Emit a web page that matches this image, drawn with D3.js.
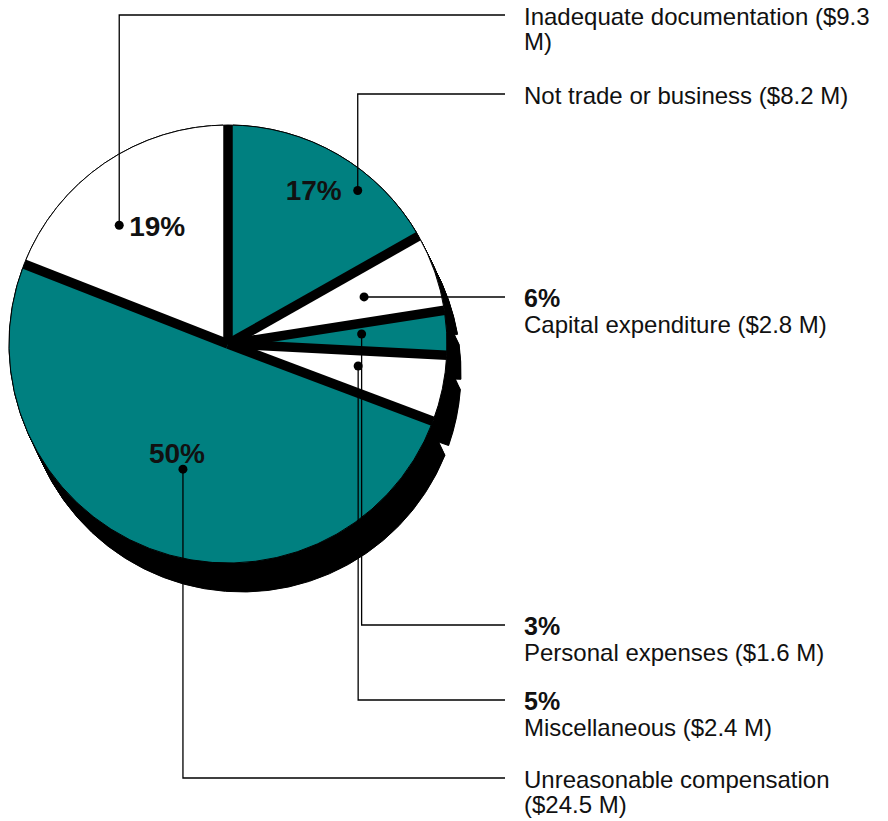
<!DOCTYPE html>
<html>
<head>
<meta charset="utf-8">
<script src="https://cdn.jsdelivr.net/npm/d3@7"></script>
<style>
  body { margin: 0; background: #fff; }
  text { font-family: "Liberation Sans", Arial, Helvetica, sans-serif; fill: #111; }
</style>
</head>
<body>
<div id="chart"></div>
<script>
// slices, clockwise from 12 o'clock
var categories = ["Not trade or business", "Capital expenditure", "Personal expenses",
                  "Miscellaneous", "Unreasonable compensation", "Inadequate documentation"];
var amounts = [8.2, 2.8, 1.6, 2.4, 24.5, 9.3];   // $ M
var percents = ["17%", "6%", "3%", "5%", "50%", "19%"];

// label lines on the right (as wrapped in the original)
var labelLines = [
    ["Not trade or business ($8.2 M)"],
    ["Capital expenditure ($2.8 M)"],
    ["Personal expenses ($1.6 M)"],
    ["Miscellaneous ($2.4 M)"],
    ["Unreasonable compensation", "($24.5 M)"],
    ["Inadequate documentation ($9.3", "M)"]
];
var pctInside = [true, false, false, false, true, true];

var width = 888, height = 821;
var cx = 228, cy = 344, radius = 219;
var shadowDx = 14, shadowDy = 29;
var gapWidth = 9.5;
var colors = ["#008080", "#ffffff", "#008080", "#ffffff", "#008080", "#ffffff"];

// placement of the leader dots / lines (layout only)
var layout = [
    {a: 40.2,  r: 201, y: 94,  inner: {dx: -16, dy: 10, anchor: "end"}},
    {a: 70.9,  r: 144, y: 297},
    {a: 85.7,  r: 134, y: 625},
    {a: 99.6,  r: 132, y: 700},
    {a: 199.8, r: 133, y: 778, inner: {dx: -6, dy: -6, anchor: "middle"}},
    {a: 317.5, r: 161, y: 15,  inner: {dx: 10, dy: 11, anchor: "start"}}
];
var lineEndX = 505, textX = 524;

var svg = d3.select("#chart").append("svg")
    .attr("width", width)
    .attr("height", height);

svg.append("rect").attr("width", width).attr("height", height).attr("fill", "#fff");

svg.append("clipPath").attr("id", "disk")
    .append("circle").attr("r", radius);

var pie = d3.pie().sort(null).value(function(d) { return d; });
var arcs = pie(amounts);

var arc = d3.arc().innerRadius(0).outerRadius(radius);
var padArc = d3.arc().innerRadius(0).outerRadius(radius)
    .padAngle(0.1).padRadius(100);

var g = svg.append("g").attr("transform", "translate(" + cx + "," + cy + ")");

// extruded black side: sweep each slice along the shadow offset
var steps = d3.range(0, 31).map(function(i) { return i / 30; });
var shadow = g.append("g");
steps.forEach(function(t) {
    shadow.selectAll(null)
        .data(arcs)
        .join("path")
        .attr("transform", "translate(" + (t * shadowDx) + "," + (t * shadowDy) + ")")
        .attr("d", padArc)
        .attr("fill", "#000")
        .attr("stroke", "#000")
        .attr("stroke-width", 1);
});

// slice faces
g.append("g")
    .selectAll("path")
    .data(arcs)
    .join("path")
    .attr("d", arc)
    .attr("fill", function(d, i) { return colors[i]; })
    .attr("stroke", "#000")
    .attr("stroke-width", 1);

// black separating bands along slice boundaries
g.append("g")
    .attr("clip-path", "url(#disk)")
    .selectAll("line")
    .data(arcs)
    .join("line")
    .attr("x1", 0).attr("y1", 0)
    .attr("x2", function(d) { return d3.pointRadial(d.startAngle, radius + 5)[0]; })
    .attr("y2", function(d) { return d3.pointRadial(d.startAngle, radius + 5)[1]; })
    .attr("stroke", "#000")
    .attr("stroke-width", gapWidth);

// leaders
var dots = layout.map(function(l) {
    var p = d3.pointRadial(l.a * Math.PI / 180, l.r);
    return [cx + p[0], cy + p[1]];
});

svg.append("g")
    .selectAll("path")
    .data(layout)
    .join("path")
    .attr("fill", "none")
    .attr("stroke", "#000")
    .attr("stroke-width", 1.3)
    .attr("d", function(l, i) {
        var p = dots[i];
        if (Math.abs(p[1] - l.y) < 3) return "M" + p[0] + "," + l.y + "H" + lineEndX;
        return "M" + p[0] + "," + p[1] + "V" + l.y + "H" + lineEndX;
    });

svg.append("g")
    .selectAll("circle")
    .data(dots)
    .join("circle")
    .attr("cx", function(d) { return d[0]; })
    .attr("cy", function(d) { return d[1]; })
    .attr("r", 4.5)
    .attr("fill", "#000");

// percentages inside the pie
layout.forEach(function(l, i) {
    if (!pctInside[i]) return;
    svg.append("text")
        .attr("x", dots[i][0] + l.inner.dx)
        .attr("y", dots[i][1] + l.inner.dy)
        .attr("text-anchor", l.inner.anchor)
        .attr("font-size", 28)
        .attr("font-weight", "bold")
        .text(percents[i]);
});

// right-hand labels
layout.forEach(function(l, i) {
    var y = l.y + 10;
    var t = svg.append("g");
    if (!pctInside[i]) {
        t.append("text")
            .attr("x", textX).attr("y", y)
            .attr("font-size", 25)
            .attr("font-weight", "bold")
            .text(percents[i]);
        y += 26;
    }
    labelLines[i].forEach(function(s, k) {
        t.append("text")
            .attr("x", textX).attr("y", y + k * 25)
            .attr("font-size", 24)
            .text(s);
    });
});
</script>
</body>
</html>
